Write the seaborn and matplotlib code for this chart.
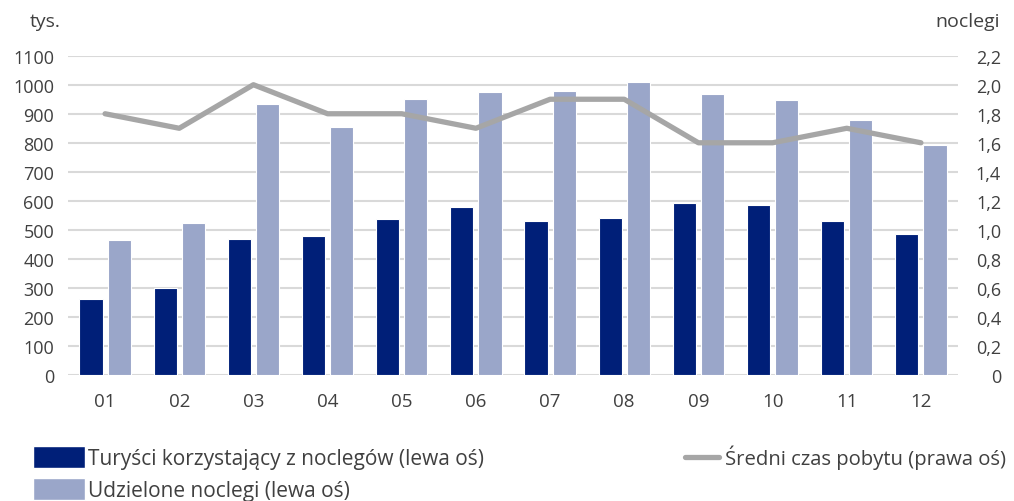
import numpy as np
import pandas as pd
import seaborn as sns
import matplotlib.pyplot as plt
from matplotlib.patches import Patch
from matplotlib.lines import Line2D
from matplotlib.ticker import FuncFormatter

months = ["01", "02", "03", "04", "05", "06", "07", "08", "09", "10", "11", "12"]
turysci = [261, 301, 469, 479, 538, 580, 529, 542, 592, 586, 532, 485]
noclegi = [465, 523, 935, 856, 951, 975, 979, 1009, 968, 948, 877, 793]
sredni_czas = [1.8, 1.7, 2.0, 1.8, 1.8, 1.7, 1.9, 1.9, 1.6, 1.6, 1.7, 1.6]

name_tur = "Turyści korzystający z noclegów (lewa oś)"
name_udz = "Udzielone noclegi (lewa oś)"
name_sr = "Średni czas pobytu (prawa oś)"

c_dark = "#001f78"
c_light = "#9aa6c9"
c_line = "#a6a6a6"
c_text = "#404040"

sns.set_style("white")
plt.rcParams["font.family"] = ["Open Sans", "DejaVu Sans"]

df = pd.DataFrame({
    "month": months * 2,
    "value": turysci + noclegi,
    "series": [name_tur] * len(months) + [name_udz] * len(months),
})

fig = plt.figure(figsize=(10.14, 5.02), dpi=100)
ax = fig.add_axes([68 / 1014, 1 - 376 / 502, (958 - 68) / 1014, (376 - 56.7) / 502])

sns.barplot(data=df, x="month", y="value", hue="series", order=months,
            palette=[c_dark, c_light], saturation=1, width=0.76, gap=0.18,
            edgecolor="white", linewidth=0.8, legend=False, ax=ax, zorder=2)

ax.set_ylim(0, 1100)
ax.set_yticks(np.arange(0, 1101, 100))
ax.set_xlim(-0.5, len(months) - 0.5)
ax.grid(axis="y", color="#d9d9d9", linewidth=1.5, zorder=0)
ax.set_axisbelow(True)
ax.set_xlabel("")
ax.set_ylabel("")
for s in ax.spines.values():
    s.set_visible(False)
ax.tick_params(axis="both", length=0, colors=c_text)
ax.tick_params(axis="y", pad=10, labelsize=13)
ax.tick_params(axis="x", pad=12, labelsize=13.5)

ax2 = ax.twinx()
sns.lineplot(x=np.arange(len(months)), y=sredni_czas, color=c_line,
             linewidth=3.8, ax=ax2, zorder=3)
ax2.set_ylim(0, 2.2)
ax2.set_yticks(np.arange(0, 2.21, 0.2))
ax2.yaxis.set_major_formatter(FuncFormatter(
    lambda v, p: "0" if abs(v) < 1e-9 else f"{v:.1f}".replace(".", ",")))
for s in ax2.spines.values():
    s.set_visible(False)
ax2.tick_params(axis="y", length=0, labelsize=13, colors=c_text, pad=31)
for lab in ax2.get_yticklabels():
    lab.set_ha("right")
ax2.grid(False)

fig.text(30 / 1014, 1 - 22 / 502, "tys.", fontsize=14, color=c_text, va="center", ha="left")
fig.text(1000 / 1014, 1 - 22 / 502, "noclegi", fontsize=14, color=c_text, va="center", ha="right")

leg1 = fig.legend(handles=[Patch(facecolor=c_dark, label=name_tur),
                           Patch(facecolor=c_light, label=name_udz)],
                  loc="upper left", bbox_to_anchor=(33 / 1014, 1 - 447 / 502),
                  frameon=False, fontsize=15, handlelength=2.5, handleheight=1.25,
                  handletextpad=0.15, labelspacing=0.42, borderaxespad=0, borderpad=0)
for t in leg1.get_texts():
    t.set_color(c_text)
leg2 = fig.legend(handles=[Line2D([0], [0], color=c_line, linewidth=3.8, label=name_sr)],
                  loc="upper left", bbox_to_anchor=(685 / 1014, 1 - 446 / 502),
                  frameon=False, fontsize=14.6, handlelength=1.68,
                  handletextpad=0.3, borderaxespad=0, borderpad=0)
for t in leg2.get_texts():
    t.set_color(c_text)

fig.savefig("out.png", dpi=100)
